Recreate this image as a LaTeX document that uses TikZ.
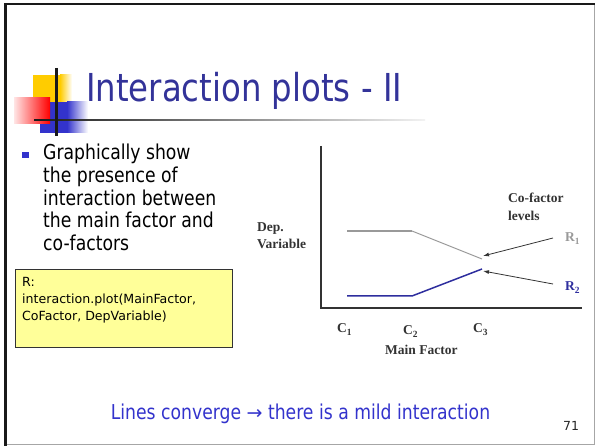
\documentclass[tikz,border=0pt]{standalone}
\usepackage{fontspec}
\setmainfont{DejaVu Sans}[FakeStretch=0.84]
\newfontfamily\dv{DejaVu Sans}
\newfontfamily\tnr{Liberation Serif}
\definecolor{titleblue}{HTML}{333399}
\definecolor{textblue}{HTML}{3333CC}
\definecolor{logoyellow}{HTML}{FFCC00}
\definecolor{logoblue}{HTML}{3333CC}
\definecolor{boxyellow}{HTML}{FFFF99}
\definecolor{rone}{HTML}{999999}
\definecolor{rtwo}{HTML}{2E2E9E}
\definecolor{axisgray}{HTML}{333333}
\tikzset{
  lbl/.style={inner sep=0pt, anchor=base west},
  plotlbl/.style={inner sep=0pt, anchor=base west, font=\tnr\bfseries\fontsize{13.5}{16}\selectfont, text=axisgray},
  bullettext/.style={inner sep=0pt, anchor=base west, font=\fontsize{20.5}{24}\selectfont, text=black},
  codetext/.style={inner sep=0pt, anchor=base west, font=\dv\fontsize{12.6}{15}\selectfont, text=black},
  pointer/.style={draw=axisgray, line width=0.8pt, -{Latex[length=6pt,width=4pt]}},
}
\usetikzlibrary{arrows.meta}
\begin{document}
\begin{tikzpicture}[x=1pt,y=-1pt]
\useasboundingbox (0,0) rectangle (595,446);
% frame
\draw[line width=1pt, draw=black!35] (5,445) -- (594,445) -- (594,4);
\draw[line width=2.5pt, draw=black!90] (5.3,446) -- (5.3,4) -- (595,4);
% logo
\fill[logoyellow] (33,75) rectangle (60,102);
\shade[left color=logoyellow, right color=white] (60,75) rectangle (72,102);
\fill[logoblue] (40,102) rectangle (67,133);
\shade[left color=logoblue, right color=white] (67,102) rectangle (88,133);
\shade[left color=red!10, right color=red] (14,98) rectangle (50,124);
\shade[left color=black!90, right color=black!5] (34,119.3) rectangle (425,120.8);
\draw[line width=2.5pt, black!90] (56.7,68) -- (56.7,136);
\node[lbl, font=\fontsize{38.5}{44}\selectfont, text=titleblue] (title) at (86,102) {Interaction plots - II};
% bullet
\fill[textblue] (22,152) rectangle (29,158);
\node[bullettext] (b1) at (43,160) {Graphically show};
\node[bullettext] (b2) at (43,182.5) {the presence of};
\node[bullettext] (b3) at (43,205.2) {interaction between};
\node[bullettext] (b4) at (43,227.9) {the main factor and};
\node[bullettext] (b5) at (43,250.6) {co-factors};
% code box
\node[draw=black!80, fill=boxyellow, line width=0.6pt, minimum width=217pt, minimum height=78pt, inner sep=0pt, anchor=north west] (codebox) at (15,269) {};
\node[codetext] (c1) at (22,287) {R:};
\node[codetext] (c2) at (22,304) {interaction.plot(MainFactor,};
\node[codetext] (c3) at (22,321) {CoFactor, DepVariable)};
% plot
\coordinate (ytop) at (321,146);
\coordinate (origin) at (321,308);
\coordinate (xend) at (582,308);
\draw[axisgray, line width=2pt] (ytop) -- (origin) -- (xend);
\coordinate (a1) at (347,231);
\coordinate (a2) at (412,231);
\coordinate (a3) at (482,259);
\coordinate (b1p) at (347,296);
\coordinate (b2p) at (412,296);
\coordinate (b3p) at (482,269);
\draw[rone, line width=1.5pt] (a1) -- (a2);
\draw[rone, line width=1pt] (a2) -- (a3);
\draw[rtwo, line width=1.5pt] (b1p) -- (b2p) -- (b3p);
\coordinate (p1s) at (553,238);
\coordinate (p1e) at (483,256);
\coordinate (p2s) at (553,284);
\coordinate (p2e) at (483,271);
\draw[pointer] (p1s) -- (p1e);
\draw[pointer] (p2s) -- (p2e);
\node[plotlbl] (dep1) at (257,232) {Dep.};
\node[plotlbl] (dep2) at (257,249) {Variable};
\node[plotlbl] (cf1) at (508,203) {Co-factor};
\node[plotlbl] (cf2) at (508,221) {levels};
\node[plotlbl, text=rone] (r1) at (565,242) {R\textsubscript{1}};
\node[plotlbl, text=rtwo] (r2) at (565,291) {R\textsubscript{2}};
\node[plotlbl] (x1) at (337,333) {C\textsubscript{1}};
\node[plotlbl] (x2) at (403,335) {C\textsubscript{2}};
\node[plotlbl] (x3) at (473,333) {C\textsubscript{3}};
\node[plotlbl] (mf) at (385,355) {Main Factor};
% bottom
\node[inner sep=0pt, anchor=base, font=\fontsize{20.5}{24}\selectfont, text=textblue] (concl) at (300.5,420) {Lines converge {\dv\fontsize{19}{22}\selectfont →} there is a mild interaction};
\node[inner sep=0pt, anchor=base west, font=\dv\fontsize{12.5}{15}\selectfont, text=black!85] (pg) at (563,431) {71};
\end{tikzpicture}
\end{document}
